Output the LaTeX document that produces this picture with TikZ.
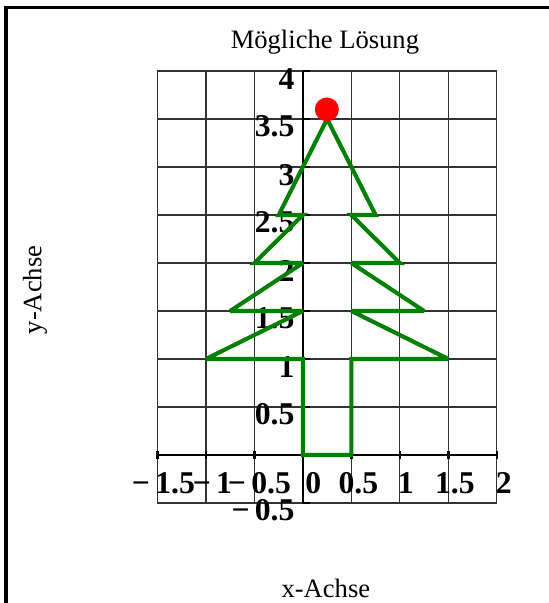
\documentclass[tikz,border=0pt]{standalone}
\usepackage{fontspec}
\setmainfont{Liberation Serif}
\usepackage{xcolor}
\usetikzlibrary{positioning}
\definecolor{treegreen}{RGB}{0,128,0}
\definecolor{ballred}{RGB}{255,0,0}
\tikzset{
  gridline/.style={draw=black!80, line width=0.35pt},
  axisline/.style={draw=black, line width=0.75pt},
  ticklabel/.style={font=\fontsize{9.3}{10}\selectfont\bfseries, inner sep=0pt},
  axistitle/.style={font=\fontsize{7.8}{9}\selectfont, inner sep=0pt},
  treeline/.style={draw=treegreen, line width=1.2pt, line join=miter, miter limit=3},
  frameline/.style={draw=black, line width=0.9pt}
}
\begin{document}
\begin{tikzpicture}[x=1cm, y=0.99cm]
\useasboundingbox (-3.124,-1.542) rectangle (2.536,4.740);
% frame (only top and left edge visible)
\draw[frameline] (-3.062,-1.6) -- (-3.062,4.661) -- (2.6,4.661);
% grid and axes
\draw[gridline] (-1.5,-0.5) grid[step=0.5] (2,4);
\draw[axisline] (-1.5,0) -- (2,0);
\draw[axisline] (0,-0.5) -- (0,4);
\foreach \xv in {-1.5,-1,...,2}
  \draw[axisline] (\xv,-0.04) -- (\xv,0.04);
\foreach \yv in {-0.5,0,...,4}
  \draw[axisline] (0,\yv) -- (0.07,\yv);
% tick labels
\foreach \lab/\px [count=\i] in {−\,1.5/-1.438, −\,1/-0.933, −\,0.5/-0.448, 0/0.108, 0.5/0.572, 1/1.062, 1.5/1.567, 2/2.072}
  \node[ticklabel] (xl\i) at (\px,-0.29) {\lab};
\foreach \lab/\yv [count=\i] in {4/4, 3.5/3.5, 3/3, 2.5/2.5, 2/2, 1.5/1.5, 1/1, 0.5/0.5, −\,0.5/-0.5}
  \node[ticklabel, anchor=east] (yl\i) at (-0.08,\yv-0.08) {\lab};
% titles
\node[axistitle] (title) at (0.227,4.30) {Mögliche Lösung};
\node[axistitle] (xtitle) at (0.237,-1.385) {x-Achse};
\node[axistitle, rotate=90] (ytitle) at (-2.763,1.72) {y-Achse};
% tree
\draw[treeline] (0,0) -- (0,1) -- (-1,1) -- (0,1.5) -- (-0.75,1.5) -- (0,2) -- (-0.5,2)
  -- (0,2.5) -- (-0.25,2.5) -- (0.25,3.5) -- (0.75,2.5) -- (0.5,2.5) -- (1,2) -- (0.5,2)
  -- (1.25,1.5) -- (0.5,1.5) -- (1.5,1) -- (0.5,1) -- (0.5,0) -- cycle;
\fill[ballred] (0.247,3.60) circle[radius=0.124];
\end{tikzpicture}
\end{document}
